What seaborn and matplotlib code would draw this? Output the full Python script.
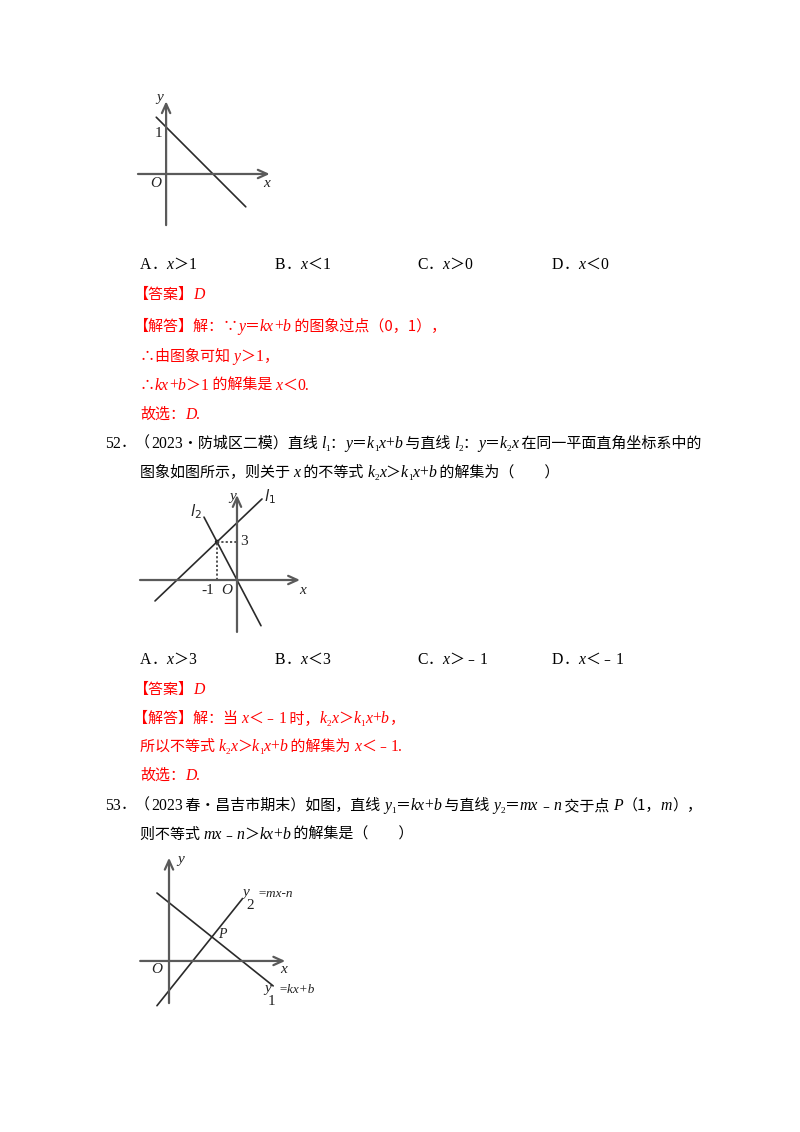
import matplotlib
matplotlib.use("Agg")
import matplotlib.pyplot as plt
import seaborn as sns
import numpy as np
import pandas as pd

sns.set_theme(style="white")
plt.rcParams['font.family'] = ['Noto Sans CJK SC', 'DejaVu Sans']

W, H = 800, 1132
fig = plt.figure(figsize=(W / 100, H / 100), dpi=100)
fig.patch.set_facecolor('white')
renderer = fig.canvas.get_renderer()

# ---------------- data ----------------
# graph 1: y = kx + b through (0,1)
g1_line_x = [-0.21, 1.70]
g1_line_y = [1.21, -0.70]
# graph 2: l1 and l2, intersection at (-1, 3)
g2_l1_x = [-4.1, 1.25]
g2_l1_y = [-1.65, 6.38]
g2_l2_x = [-1.65, 1.2]
g2_l2_y = [4.95, -3.6]
g2_point = (-1, 3)
# graph 3: y1 = kx+b, y2 = mx-n, meet at P(1, m)
g3_y1_x = [-0.28, 2.42]
g3_y1_y = [1.58, -0.58]
g3_y2_x = [-0.28, 1.70]
g3_y2_y = [-1.04, 1.44]
g3_P = (1, 0.56)

opts51 = [["A", "x", "＞", "1"], ["B", "x", "＜", "1"], ["C", "x", "＞", "0"], ["D", "x", "＜", "0"]]
opts52 = [["A", "x", "＞", "3"], ["B", "x", "＜", "3"], ["C", "x", "＞﹣", "1"], ["D", "x", "＜﹣", "1"]]
opt_x = [140, 275, 417, 552]

RED = '#FF0000'
BLK = '#000000'
FS = 10.8
SERIF = ['Liberation Serif', 'DejaVu Serif']
CJK = ['Noto Sans CJK SC', 'DejaVu Sans']


def put(x, y, s, kind='cn', color=BLK, size=FS):
    kw = dict(color=color, va='baseline', ha='left', transform=fig.transFigure)
    dy = 0
    if kind == 'cn':
        kw.update(family=CJK, fontsize=size)
    elif kind == 'it':
        kw.update(family=SERIF, style='italic', fontsize=size * 1.05)
    elif kind == 'rm':
        kw.update(family=SERIF, fontsize=size * 1.05)
    elif kind == 'sub':
        kw.update(family=SERIF, fontsize=size * 0.62)
        dy = 3
    t = fig.text(x / W, 1 - (y + dy) / H, s, **kw)
    return t.get_window_extent(renderer).width


def rich(x, y, segs, color=BLK):
    cx = x
    for s, k in segs:
        cx += put(cx, y, s, k, color)
    return cx


# ---------------- text ----------------
def options(yb, opts):
    for xo, (L, v, op, n) in zip(opt_x, opts):
        rich(xo, yb, [(L, 'rm'), ('．', 'cn'), (v, 'it'), (op, 'cn'), (n, 'rm')])


options(269, opts51)
rich(133, 299, [('【答案】', 'cn'), ('D', 'it')], RED)
rich(133, 331, [('【解答】解：∵', 'cn'), ('y', 'it'), ('＝', 'cn'), ('kx', 'it'), ('+', 'rm'),
                ('b', 'it'), (' 的图象过点（0，1），', 'cn')], RED)
rich(140, 361, [('∴由图象可知 ', 'cn'), ('y', 'it'), ('＞', 'cn'), ('1', 'rm'), ('，', 'cn')], RED)
rich(140, 390, [('∴', 'cn'), ('kx', 'it'), ('+', 'rm'), ('b', 'it'), ('＞', 'cn'), ('1', 'rm'),
                (' 的解集是 ', 'cn'), ('x', 'it'), ('＜', 'cn'), ('0.', 'rm')], RED)
rich(140, 419, [('故选：', 'cn'), ('D', 'it'), ('.', 'rm')], RED)

rich(105, 448, [('52', 'rm'), ('．（', 'cn'), ('2023', 'rm'), ('•防城区二模）直线 ', 'cn'), ('l', 'it'), ('1', 'sub'),
                ('：', 'cn'), ('y', 'it'), ('＝', 'cn'), ('k', 'it'), ('1', 'sub'), ('x', 'it'), ('+', 'rm'), ('b', 'it'),
                (' 与直线 ', 'cn'), ('l', 'it'), ('2', 'sub'), ('：', 'cn'), ('y', 'it'), ('＝', 'cn'), ('k', 'it'),
                ('2', 'sub'), ('x', 'it'), (' 在同一平面直角坐标系中的', 'cn')])
rich(140, 477, [('图象如图所示，则关于 ', 'cn'), ('x', 'it'), (' 的不等式 ', 'cn'), ('k', 'it'), ('2', 'sub'), ('x', 'it'),
                ('＞', 'cn'), ('k', 'it'), ('1', 'sub'), ('x', 'it'), ('+', 'rm'), ('b', 'it'), (' 的解集为（　　）', 'cn')])

options(664, opts52)
rich(133, 694, [('【答案】', 'cn'), ('D', 'it')], RED)
rich(133, 723, [('【解答】解：当 ', 'cn'), ('x', 'it'), ('＜﹣', 'cn'), ('1', 'rm'), (' 时，', 'cn'), ('k', 'it'), ('2', 'sub'),
                ('x', 'it'), ('＞', 'cn'), ('k', 'it'), ('1', 'sub'), ('x', 'it'), ('+', 'rm'), ('b', 'it'), ('，', 'cn')], RED)
rich(140, 751, [('所以不等式 ', 'cn'), ('k', 'it'), ('2', 'sub'), ('x', 'it'), ('＞', 'cn'), ('k', 'it'), ('1', 'sub'),
                ('x', 'it'), ('+', 'rm'), ('b', 'it'), (' 的解集为 ', 'cn'), ('x', 'it'), ('＜﹣', 'cn'), ('1.', 'rm')], RED)
rich(140, 780, [('故选：', 'cn'), ('D', 'it'), ('.', 'rm')], RED)

rich(105, 810, [('53', 'rm'), ('．（', 'cn'), ('2023', 'rm'), (' 春•昌吉市期末）如图，直线 ', 'cn'), ('y', 'it'), ('1', 'sub'),
                ('＝', 'cn'), ('kx', 'it'), ('+', 'rm'), ('b', 'it'), (' 与直线 ', 'cn'), ('y', 'it'), ('2', 'sub'),
                ('＝', 'cn'), ('mx', 'it'), ('﹣', 'cn'), ('n', 'it'), (' 交于点 ', 'cn'), ('P', 'it'), ('（1，', 'cn'),
                ('m', 'it'), ('），', 'cn')])
rich(140, 839, [('则不等式 ', 'cn'), ('mx', 'it'), ('﹣', 'cn'), ('n', 'it'), ('＞', 'cn'), ('kx', 'it'), ('+', 'rm'),
                ('b', 'it'), (' 的解集是（　　）', 'cn')])


# ---------------- graphs ----------------
LC = '#2a2a2a'


def make_ax(px0, py0, px1, py1, xlim, ylim):
    ax = fig.add_axes([px0 / W, 1 - py1 / H, (px1 - px0) / W, (py1 - py0) / H])
    ax.set_xlim(*xlim)
    ax.set_ylim(*ylim)
    ax.axis('off')
    return ax


def axes_arrows(ax, xr, yr):
    ap = dict(arrowstyle='->,head_length=0.55,head_width=0.25', lw=1.6, color='#5a5a5a', shrinkA=0, shrinkB=0)
    ax.annotate('', xy=(xr[1], 0), xytext=(xr[0], 0), arrowprops=ap)
    ax.annotate('', xy=(0, yr[1]), xytext=(0, yr[0]), arrowprops=ap)


def lbl(ax, x, y, s, style='italic', size=11, ha='center', va='center'):
    ax.text(x, y, s, family=SERIF, style=style, fontsize=size, ha=ha, va=va, color='#222222')


# graph 1
ax1 = make_ax(130, 90, 280, 250, (-0.77, 2.43), (-1.62, 1.79))
axes_arrows(ax1, (-0.6, 2.21), (-1.09, 1.55))
sns.lineplot(x=g1_line_x, y=g1_line_y, ax=ax1, color=LC, lw=1.2)
lbl(ax1, -0.13, 1.62, 'y')
lbl(ax1, -0.17, 0.86, '1', style='normal')
lbl(ax1, -0.23, -0.2, 'O')
lbl(ax1, 2.15, -0.2, 'x')

# graph 2
ax2 = make_ax(140, 485, 310, 635, (-4.85, 3.65), (-4.33, 7.48))
axes_arrows(ax2, (-4.85, 3.15), (-4.09, 6.69))
sns.lineplot(x=g2_l1_x, y=g2_l1_y, ax=ax2, color=LC, lw=1.2)
sns.lineplot(x=g2_l2_x, y=g2_l2_y, ax=ax2, color=LC, lw=1.2)
ax2.plot([g2_point[0], g2_point[0]], [0, g2_point[1]], ls=(0, (1.2, 1.2)), color='#444444', lw=1.3)
ax2.plot([g2_point[0], 0], [g2_point[1], g2_point[1]], ls=(0, (1.2, 1.2)), color='#444444', lw=1.3)
sns.scatterplot(x=[g2_point[0]], y=[g2_point[1]], ax=ax2, color='#222222', s=10, edgecolor='none')
lbl(ax2, -0.2, 6.6, 'y')
ax2.text(1.35, 6.6, '$\\mathit{l}_{1}$', fontsize=11, ha='left', va='center', color='#222222')
ax2.text(-2.35, 5.4, '$\\mathit{l}_{2}$', fontsize=11, ha='left', va='center', color='#222222')
lbl(ax2, 0.35, 3.0, '3', style='normal', ha='center')
lbl(ax2, -1.45, -0.85, '-1', style='normal')
lbl(ax2, -0.5, -0.85, 'O')
lbl(ax2, 3.3, -0.85, 'x')

# graph 3
ax3 = make_ax(135, 850, 330, 1010, (-0.79, 3.74), (-1.14, 2.58))
axes_arrows(ax3, (-0.67, 2.70), (-0.98, 2.40))
sns.lineplot(x=g3_y1_x, y=g3_y1_y, ax=ax3, color=LC, lw=1.2)
sns.lineplot(x=g3_y2_x, y=g3_y2_y, ax=ax3, color=LC, lw=1.2)
lbl(ax3, 0.27, 2.35, 'y')
lbl(ax3, -0.28, -0.2, 'O')
lbl(ax3, 2.65, -0.2, 'x')
lbl(ax3, g3_P[0] + 0.25, g3_P[1] + 0.05, 'P', size=10)
lbl(ax3, 1.77, 1.6, 'y')
lbl(ax3, 1.88, 1.3, '2', style='normal')
ax3.text(2.05, 1.55, '=mx-n', family=SERIF, style='italic', fontsize=9.5, ha='left', va='center', color='#222222')
lbl(ax3, 2.30, -0.63, 'y')
lbl(ax3, 2.38, -0.95, '1', style='normal')
ax3.text(2.55, -0.67, '=kx+b', family=SERIF, style='italic', fontsize=9.5, ha='left', va='center', color='#222222')

fig.savefig('out.png', dpi=100, facecolor='white')
